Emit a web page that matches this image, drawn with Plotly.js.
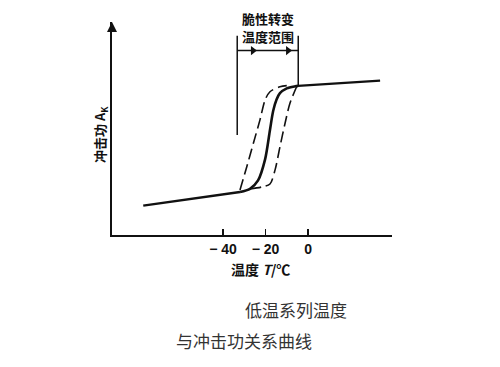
<!DOCTYPE html>
<html>
<head>
<meta charset="utf-8">
<script src="https://cdn.plot.ly/plotly-3.0.1.min.js"></script>
<style>html,body{margin:0;padding:0;background:#fff;}#chart{width:500px;height:367px;}</style>
</head>
<body>
<div id="chart"></div>
<script>
// Temperature (°C) and impact energy (arbitrary units)
const lowerShelfT = [-77.5, -32.0];
const lowerShelfA = [14.0, 20.5];
const upperShelfT = [-4.7, 33.9];
const upperShelfA = [71.0, 73.5];

const solidT = [-32.0, -27.3, -23.5, -20.2, -17.9, -16.4, -14.8, -13.2, -10.0, -6.0, -4.7];
const solidA = [20.5, 22.0, 26.0, 36.0, 50.0, 59.0, 64.5, 67.5, 69.8, 70.8, 71.0];

const dashLeftT = [-32.0, -28.8, -25.7, -22.6, -20.2, -17.9, -13.2, -10.0];
const dashLeftA = [21.4, 32.5, 43.7, 54.8, 64.3, 68.2, 70.6, 71.1];

const dashRightT = [-27.3, -21.6, -17.9, -15.5, -13.2, -10.8, -8.5, -5.0];
const dashRightA = [21.9, 22.9, 24.3, 31.0, 42.0, 53.2, 62.7, 71.4];

// brittle transition range bracket
const rangeLow = -33.3, rangeHigh = -4.6;
const bracketTop = 94.8, bracketBar = 87.8, leftBottom = 47.6;
const arrowT = [-25.9, -9.4];

const tickVals = [-40, -20, 0];
const tickText = ['− 40', '− 20', '0'];

const black = '#111';
const traces = [
  {x: lowerShelfT, y: lowerShelfA, mode: 'lines', line: {color: black, width: 2.4}},
  {x: upperShelfT, y: upperShelfA, mode: 'lines', line: {color: black, width: 2.4}},
  {x: solidT, y: solidA, mode: 'lines', line: {color: black, width: 2.6, shape: 'spline', smoothing: 0.8}},
  {x: dashLeftT, y: dashLeftA, mode: 'lines', line: {color: black, width: 1.6, dash: '11px,5px', shape: 'spline', smoothing: 0.8}},
  {x: dashRightT, y: dashRightA, mode: 'lines', line: {color: black, width: 1.6, dash: '11px,5px', shape: 'spline', smoothing: 0.8}},
  {x: [rangeLow, rangeLow], y: [leftBottom, bracketTop], mode: 'lines', line: {color: black, width: 1.5}},
  {x: [rangeHigh, rangeHigh], y: [upperShelfA[0], bracketTop], mode: 'lines', line: {color: black, width: 1.5}},
  {x: [rangeLow, rangeHigh], y: [bracketBar, bracketBar], mode: 'lines', line: {color: black, width: 1.5}},
  {x: arrowT, y: [bracketBar, bracketBar], mode: 'markers', marker: {symbol: 'triangle-right', size: 8, color: black}}
];

const cjk = '"Noto Sans CJK SC", "Noto Sans", sans-serif';
function note(x, y, text, size, color, extra) {
  return Object.assign({x: x, y: y, xref: 'paper', yref: 'paper', xanchor: 'center', yanchor: 'middle',
    showarrow: false, text: text, font: {family: cjk, size: size, color: color}}, extra || {});
}
const layout = {
  width: 500, height: 367,
  margin: {l: 112, r: 108, t: 22, b: 132},
  paper_bgcolor: '#fff', plot_bgcolor: '#fff',
  showlegend: false,
  xaxis: {
    range: [-92.2, 39.5], showgrid: false, zeroline: false,
    showline: true, linecolor: black, linewidth: 2,
    ticks: 'inside', ticklen: 6, tickwidth: 1.5, tickcolor: black,
    tickmode: 'array', tickvals: tickVals, ticktext: tickText,
    tickfont: {family: 'Liberation Sans, Arial, sans-serif', size: 14, color: black, weight: 'bold'}
  },
  yaxis: {
    range: [0, 101.4], showgrid: false, zeroline: false,
    showline: true, linecolor: black, linewidth: 2,
    showticklabels: false, ticks: ''
  },
  annotations: [
    {x: 0, y: 1, xref: 'paper', yref: 'paper', ax: 0, ay: 14, showarrow: true,
     arrowhead: 2, arrowsize: 1, arrowwidth: 2, arrowcolor: black, text: ' '},
    note(0.557, 1.016, '<b>脆性转变</b>', 13, black),
    note(0.557, 0.930, '<b>温度范围</b>', 13, black),
    note(-0.043, 0.474, '<b>冲击功 A<sub>K</sub></b>', 13, black, {textangle: -90}),
    note(0.532, -0.160, '<b>温度 <i>T</i>/℃</b>', 14, black),
    note(0.657, -0.352, '低温系列温度', 17, '#333'),
    note(0.471, -0.493, '与冲击功关系曲线', 17, '#333')
  ]
};

Plotly.newPlot('chart', traces, layout, {staticPlot: true, displayModeBar: false});
</script>
</body>
</html>
